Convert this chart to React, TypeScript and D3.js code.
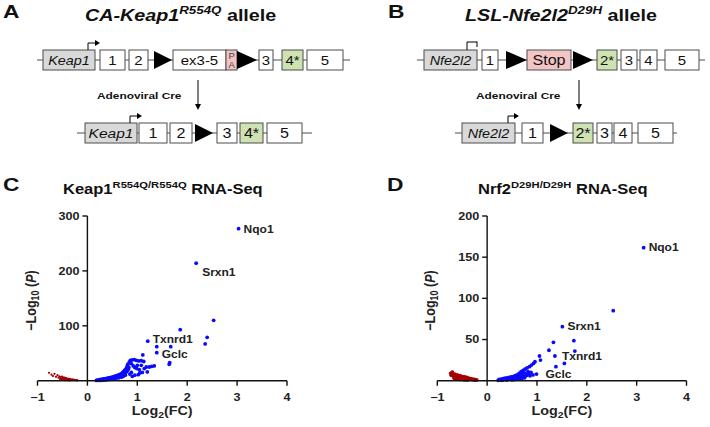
import React from "react";
import * as d3 from "d3";

// ---------------- DATA ----------------
const xTicks = [-1, 0, 1, 2, 3, 4];
const cYTicks = [100, 200, 300];
const dYTicks = [50, 100, 150, 200];

// Panel C: Keap1 R554Q/R554Q – up-regulated (blue) [log2FC, -log10P]
const cBlue: [number, number][] = [
  [3.03, 277], [2.18, 214], [2.53, 110], [1.86, 93], [2.40, 79], [2.36, 67], [1.21, 72], [1.39, 62], [1.67, 62],
  [1.39, 51], [1.11, 47], [1.65, 33], [1.64, 30],
  [0.86, 37], [0.9, 38], [0.94, 38.5], [0.98, 37], [1.03, 36], [1.08, 36.5], [1.13, 35], [0.84, 34], [0.88, 31],
  [0.92, 27], [0.95, 24], [0.99, 22], [1.04, 20], [1.0, 28], [1.08, 28], [1.14, 22], [1.18, 25], [1.24, 25],
  [1.29, 26], [1.34, 27], [0.9, 8], [0.95, 10], [1.02, 11], [1.1, 15], [1.2, 16], [1.05, 14],
  [0.18, 0.5], [0.2, 1.2], [0.22, 0.6], [0.24, 1.8], [0.25, 1], [0.27, 2.2], [0.28, 1.2], [0.3, 2.8], [0.31, 1.6],
  [0.33, 3.2], [0.34, 2], [0.36, 3.8], [0.37, 2.4], [0.39, 4.2], [0.4, 2.8], [0.42, 5], [0.43, 3.4], [0.45, 5.6],
  [0.46, 3.8], [0.48, 6.2], [0.49, 4.4], [0.51, 7], [0.52, 5], [0.54, 7.8], [0.55, 5.6], [0.57, 8.6], [0.58, 6.2],
  [0.6, 9.6], [0.61, 7], [0.63, 10.6], [0.64, 7.8], [0.66, 12], [0.67, 8.6], [0.69, 13.5], [0.7, 9.5], [0.71, 15],
  [0.72, 11], [0.73, 17], [0.74, 12.5], [0.75, 19], [0.76, 14], [0.77, 21], [0.78, 16], [0.79, 24], [0.8, 18],
  [0.8, 27], [0.81, 30], [0.82, 21], [0.83, 24], [0.76, 10], [0.72, 8], [0.68, 6.5], [0.62, 5], [0.56, 3.8],
  [0.5, 3], [0.44, 2], [0.38, 1.5], [0.32, 1], [0.26, 0.5], [0.85, 12], [0.88, 15],
];
// Panel C: down-regulated (red)
const cRed: [number, number][] = [
  [-0.77, 14.5], [-0.72, 11], [-0.69, 8.5], [-0.66, 12.5], [-0.63, 7], [-0.6, 10], [-0.58, 5.5], [-0.56, 8],
  [-0.54, 6.5], [-0.53, 4], [-0.51, 7.5], [-0.5, 5], [-0.49, 3], [-0.47, 6], [-0.46, 4], [-0.45, 2.5], [-0.43, 5],
  [-0.42, 3.5], [-0.41, 2], [-0.39, 4], [-0.38, 2.8], [-0.37, 1.5], [-0.35, 3.2], [-0.34, 2], [-0.33, 1],
  [-0.31, 2.5], [-0.3, 1.5], [-0.28, 2], [-0.27, 1], [-0.25, 1.5], [-0.23, 0.8], [-0.21, 1], [-0.2, 0.5],
  [-0.48, 1.5], [-0.44, 1], [-0.4, 0.8], [-0.36, 0.5], [-0.52, 2], [-0.55, 3],
];
const cLabels: { name: string; fc: number; p: number }[] = [
  { name: "Nqo1", fc: 3.03, p: 277 },
  { name: "Srxn1", fc: 2.18, p: 214 },
  { name: "Txnrd1", fc: 1.21, p: 72 },
  { name: "Gclc", fc: 1.39, p: 51 },
];

// Panel D: Nrf2 D29H/D29H
const dBlue: [number, number][] = [
  [3.14, 161.5], [2.53, 85], [1.51, 65.6], [1.33, 46.6], [1.74, 48.6], [1.24, 37], [1.76, 36], [1.36, 30],
  [1.05, 30], [1.07, 25], [1.55, 21], [1.38, 17],
  [0.96, 23], [0.93, 21], [0.89, 19], [0.85, 17], [0.8, 15.5], [0.76, 14], [0.72, 12.5], [0.68, 11], [0.64, 9],
  [0.99, 8], [0.92, 7], [0.86, 6],
  [0.22, 0.5], [0.24, 1.5], [0.26, 0.8], [0.28, 2], [0.3, 1], [0.32, 2.5], [0.34, 1.2], [0.36, 3], [0.38, 1.5],
  [0.4, 3.5], [0.42, 1.8], [0.44, 4], [0.46, 2.2], [0.48, 4.5], [0.5, 2.5], [0.52, 5], [0.54, 3], [0.56, 6],
  [0.58, 3.5], [0.6, 7], [0.62, 4], [0.64, 5.5], [0.66, 8], [0.68, 4.5], [0.7, 9.5], [0.72, 6], [0.74, 10],
  [0.76, 5], [0.78, 8], [0.8, 6.5], [0.82, 11], [0.84, 9], [0.7, 3], [0.6, 2], [0.5, 1], [0.4, 0.8], [0.3, 0.4],
  [0.55, 1.5], [0.65, 2.5], [0.75, 3.5], [0.88, 10],
];
const dRed: [number, number][] = [
  [-0.73, 9], [-0.7, 10.5], [-0.72, 6.5], [-0.69, 7.5], [-0.67, 5], [-0.65, 8], [-0.63, 6], [-0.61, 4], [-0.6, 7],
  [-0.58, 5.5], [-0.56, 3.5], [-0.54, 6], [-0.52, 4.5], [-0.5, 2.5], [-0.49, 5], [-0.47, 3.5], [-0.45, 4.5],
  [-0.43, 2.5], [-0.41, 4], [-0.39, 2], [-0.37, 3], [-0.35, 1.5], [-0.33, 2.5], [-0.31, 1.5], [-0.29, 2],
  [-0.27, 1], [-0.25, 1.5], [-0.23, 0.8], [-0.21, 1], [-0.66, 3], [-0.62, 2], [-0.55, 1.5], [-0.46, 1], [-0.4, 0.8],
];
const dLabels: { name: string; fc: number; p: number }[] = [
  { name: "Nqo1", fc: 3.14, p: 161.5 },
  { name: "Srxn1", fc: 1.51, p: 65.6 },
  { name: "Txnrd1", fc: 1.36, p: 30 },
  { name: "Gclc", fc: 0.99, p: 8 },
];

// ---------------- STYLE ----------------
const FONT = "'Liberation Sans', Arial, Helvetica, sans-serif";
const SX = 1.2;
const BLUE = "#0a0aff";
const RED = "#a30000";
const GRAY_FILL = "#d9d9d9";
const PINK = "#f2c4c4";
const GREEN = "#cfe2b2";
const STROKE = "#4d4d4d";

type TProps = {
  x: number; y: number; size: number; weight?: string | number; italic?: boolean;
  anchor?: "start" | "middle" | "end"; sx?: number; rotate?: number; fill?: string; children: React.ReactNode;
};
function T({ x, y, size, weight = "normal", italic = false, anchor = "start", sx = SX, rotate = 0, fill = "#111", children }: TProps) {
  return (
    <text
      transform={`translate(${x},${y}) scale(${sx},1)${rotate ? ` rotate(${rotate})` : ""}`}
      fontSize={size}
      fontWeight={weight}
      fontStyle={italic ? "italic" : "normal"}
      textAnchor={anchor}
      fontFamily={FONT}
      fill={fill}
    >
      {children}
    </text>
  );
}

// ---------------- DIAGRAM PIECES ----------------
function Box({ x0, x1, top, h, fill = "#fff", label, italic = false, size = 13 }: { x0: number; x1: number; top: number; h: number; fill?: string; label?: string; italic?: boolean; size?: number }) {
  return (
    <g>
      <rect x={x0} y={top} width={x1 - x0} height={h} fill={fill} stroke={STROKE} strokeWidth={1} />
      {label && (
        <T x={(x0 + x1) / 2} y={top + h / 2 + size * 0.36} size={size} italic={italic} anchor="middle" sx={1.15}>
          {label}
        </T>
      )}
    </g>
  );
}
function Tri({ x0, x1, top, h }: { x0: number; x1: number; top: number; h: number }) {
  return <path d={`M${x0},${top + 1} L${x1},${top + h / 2} L${x0},${top + h - 1} Z`} fill="#000" />;
}
function Promoter({ x, top, h, x1, blocked = false }: { x: number; top: number; h: number; x1: number; blocked?: boolean }) {
  const yTop = top - h;
  return (
    <g stroke="#000" strokeWidth={1} fill="none">
      <path d={`M${x},${top} L${x},${yTop} L${x1},${yTop}`} />
      {blocked ? (
        <path d={`M${x1},${yTop - 0.5} L${x1},${yTop + 5}`} />
      ) : (
        <path d={`M${x1},${yTop - 3} L${x1 + 5},${yTop} L${x1},${yTop + 3} Z`} fill="#000" stroke="none" />
      )}
    </g>
  );
}
function DownArrow({ x, y0, y1 }: { x: number; y0: number; y1: number }) {
  return (
    <g>
      <line x1={x} y1={y0} x2={x} y2={y1 - 5} stroke="#000" strokeWidth={1} />
      <path d={`M${x - 3},${y1 - 6} L${x},${y1} L${x + 3},${y1 - 6} Z`} fill="#000" />
    </g>
  );
}

function PanelA() {
  const t1 = 50, h = 20, t2 = 123;
  return (
    <g>
      <T x={3} y={18} size={19} weight="bold" sx={1.2}>A</T>
      <T x={85} y={21} size={17} weight="bold" sx={1.16}>
        <tspan fontStyle="italic">CA-Keap1</tspan>
        <tspan fontStyle="italic" fontSize={11.5} dy={-7}>R554Q</tspan>
        <tspan dy={7}> allele</tspan>
      </T>
      {/* row 1 */}
      <line x1={37} x2={350} y1={t1 + h / 2} y2={t1 + h / 2} stroke={STROKE} strokeWidth={1} />
      <Box x0={43} x1={95} top={t1} h={h} fill={GRAY_FILL} label="Keap1" italic size={12.5} />
      <Promoter x={88} top={t1} h={7} x1={95} />
      <Box x0={100} x1={125} top={t1} h={h} label="1" />
      <Box x0={129} x1={148} top={t1} h={h} label="2" />
      <Tri x0={154} x1={172} top={t1} h={h} />
      <Box x0={173} x1={226} top={t1} h={h} label="ex3-5" />
      <rect x={226} y={t1} width={11} height={h} fill={PINK} stroke={STROKE} strokeWidth={1} />
      <T x={231.5} y={t1 + 8.5} size={8.5} anchor="middle" sx={1.1} fill="#444">P</T>
      <T x={231.5} y={t1 + 18} size={8.5} anchor="middle" sx={1.1} fill="#444">A</T>
      <Tri x0={237} x1={257} top={t1} h={h} />
      <Box x0={259} x1={273} top={t1} h={h} label="3" />
      <Box x0={282} x1={303} top={t1} h={h} fill={GREEN} label="4*" />
      <Box x0={307} x1={343} top={t1} h={h} label="5" />
      {/* arrow */}
      <DownArrow x={198} y0={80} y1={110} />
      <T x={97} y={99} size={9.5} weight="bold" sx={1.25}>Adenoviral Cre</T>
      {/* row 2 */}
      <line x1={77} x2={312} y1={t2 + h / 2} y2={t2 + h / 2} stroke={STROKE} strokeWidth={1} />
      <Box x0={85} x1={137} top={t2} h={h} fill={GRAY_FILL} label="Keap1" italic size={13.5} />
      <Promoter x={130} top={t2} h={7} x1={137} />
      <Box x0={139} x1={167} top={t2} h={h} label="1" size={14} />
      <Box x0={170} x1={192} top={t2} h={h} label="2" size={14} />
      <Tri x0={195} x1={213} top={t2} h={h} />
      <Box x0={217} x1={237} top={t2} h={h} label="3" size={14} />
      <Box x0={240} x1={263} top={t2} h={h} fill={GREEN} label="4*" size={14} />
      <Box x0={267} x1={302} top={t2} h={h} label="5" size={14} />
    </g>
  );
}

function PanelB() {
  const t1 = 50, h = 20, t2 = 123;
  return (
    <g>
      <T x={388} y={18} size={19} weight="bold" sx={1.2}>B</T>
      <T x={465} y={21} size={17} weight="bold" sx={1.16}>
        <tspan fontStyle="italic">LSL-Nfe2l2</tspan>
        <tspan fontStyle="italic" fontSize={11.5} dy={-7}>D29H</tspan>
        <tspan dy={7}> allele</tspan>
      </T>
      {/* row 1 */}
      <line x1={417} x2={705} y1={t1 + h / 2} y2={t1 + h / 2} stroke={STROKE} strokeWidth={1} />
      <Box x0={424} x1={477} top={t1} h={h} fill={GRAY_FILL} label="Nfe2l2" italic size={12.5} />
      <Promoter x={467} top={t1} h={8} x1={477} blocked />
      <Box x0={482} x1={498} top={t1} h={h} label="1" />
      <Tri x0={506} x1={527} top={t1} h={h} />
      <Box x0={527} x1={571} top={t1} h={h} fill={PINK} label="Stop" size={14} />
      <Tri x0={573} x1={593} top={t1} h={h} />
      <Box x0={597} x1={617} top={t1} h={h} fill={GREEN} label="2*" />
      <Box x0={621} x1={637} top={t1} h={h} label="3" />
      <Box x0={640} x1={657} top={t1} h={h} label="4" />
      <Box x0={665} x1={699} top={t1} h={h} label="5" />
      <DownArrow x={579} y0={80} y1={110} />
      <T x={476} y={99} size={9.5} weight="bold" sx={1.25}>Adenoviral Cre</T>
      {/* row 2 */}
      <line x1={455} x2={677} y1={t2 + h / 2} y2={t2 + h / 2} stroke={STROKE} strokeWidth={1} />
      <Box x0={462} x1={515} top={t2} h={h} fill={GRAY_FILL} label="Nfe2l2" italic size={12.5} />
      <Promoter x={508} top={t2} h={7} x1={514} />
      <Box x0={522} x1={543} top={t2} h={h} label="1" size={14} />
      <Tri x0={550} x1={568} top={t2} h={h} />
      <Box x0={573} x1={593} top={t2} h={h} fill={GREEN} label="2*" size={14} />
      <Box x0={597} x1={612} top={t2} h={h} label="3" size={14} />
      <Box x0={614} x1={632} top={t2} h={h} label="4" size={14} />
      <Box x0={638} x1={673} top={t2} h={h} label="5" size={14} />
    </g>
  );
}

// ---------------- VOLCANO ----------------
type VProps = {
  letter: string; letterX: number; titleMain: string; titleSup: string; titleX: number;
  xRange: [number, number]; yMax: number; yTicks: number[];
  blue: [number, number][]; red: [number, number][]; redR: number;
  labels: { name: string; fc: number; p: number }[]; labelOffsets: [number, number][];
  yLabelX: number;
};
function Volcano(p: VProps) {
  const y0 = 380.7, yTop = 216;
  const x = d3.scaleLinear().domain([-1, 4]).range(p.xRange);
  const y = d3.scaleLinear().domain([0, p.yMax]).range([y0, yTop]);
  const ax = x(0);
  const fmt = (v: number) => (v < 0 ? "\u2212" + Math.abs(v) : String(v));
  return (
    <g>
      <T x={p.letterX} y={191} size={19} weight="bold" sx={1.2}>{p.letter}</T>
      <T x={p.titleX} y={194} size={14} weight="bold" sx={1.18}>
        {p.titleMain}
        <tspan fontSize={9.5} dy={-6}>{p.titleSup}</tspan>
        <tspan dy={6}> RNA-Seq</tspan>
      </T>
      {/* points */}
      {p.red.map((d, i) => (
        <circle key={"r" + i} cx={x(d[0])} cy={y(d[1])} r={p.redR} fill={RED} />
      ))}
      {p.blue.map((d, i) => (
        <circle key={"b" + i} cx={x(d[0])} cy={y(d[1])} r={1.9} fill={BLUE} />
      ))}
      {/* axes */}
      <g stroke="#111" strokeWidth={1.4} fill="none">
        <line x1={ax} x2={ax} y1={yTop} y2={y0} />
        <line x1={p.xRange[0]} x2={p.xRange[1]} y1={y0} y2={y0} />
        {p.yTicks.map((t) => (
          <line key={"yt" + t} x1={ax - 5} x2={ax} y1={y(t)} y2={y(t)} />
        ))}
        {xTicks.map((t) => (
          <line key={"xt" + t} x1={x(t)} x2={x(t)} y1={y0} y2={y0 + 5} />
        ))}
      </g>
      {p.yTicks.map((t) => (
        <T key={"yl" + t} x={ax - 8} y={y(t) + 3.8} size={10.5} weight="bold" anchor="end" fill="#222">{String(t)}</T>
      ))}
      {xTicks.map((t) => (
        <T key={"xl" + t} x={x(t)} y={401} size={10.5} weight="bold" anchor="middle" fill="#222">{fmt(t)}</T>
      ))}
      <T x={x(1.5)} y={415} size={12.5} weight="bold" anchor="middle" sx={1.15} fill="#222">
        Log<tspan fontSize={9} dy={3}>2</tspan><tspan dy={-3}>(FC)</tspan>
      </T>
      <T x={p.yLabelX} y={300.5} size={12.5} weight="bold" anchor="middle" sx={1.15} rotate={-90} fill="#222">
        {"\u2212Log"}<tspan fontSize={9} dy={3}>10</tspan><tspan dy={-3}> (</tspan><tspan fontStyle="italic">P</tspan>)
      </T>
      {p.labels.map((l, i) => (
        <T key={l.name} x={x(l.fc) + p.labelOffsets[i][0]} y={y(l.p) + p.labelOffsets[i][1]} size={10} weight="bold" fill="#222">
          {l.name}
        </T>
      ))}
    </g>
  );
}

export default function App() {
  return (
    <svg width={710} height={427} style={{ position: "absolute", left: 0, top: 0, background: "#fff" }}>
      <rect width={710} height={427} fill="#fff" />
      <PanelA />
      <PanelB />
      <Volcano
        letter="C" letterX={3} titleMain="Keap1" titleSup="R554Q/R554Q" titleX={63}
        xRange={[37.5, 287]} yMax={300} yTicks={cYTicks}
        blue={cBlue} red={cRed} redR={1.1}
        labels={cLabels} labelOffsets={[[5, 4], [6, 12.5], [5, 1.5], [5, 5.5]]}
        yLabelX={36}
      />
      <Volcano
        letter="D" letterX={387} titleMain="Nrf2" titleSup="D29H/D29H" titleX={478}
        xRange={[437.3, 686.5]} yMax={200} yTicks={dYTicks}
        blue={dBlue} red={dRed} redR={1.9}
        labels={dLabels} labelOffsets={[[5, 3.5], [5, 3], [7, 4.5], [9, 4]]}
        yLabelX={435}
      />
    </svg>
  );
}
